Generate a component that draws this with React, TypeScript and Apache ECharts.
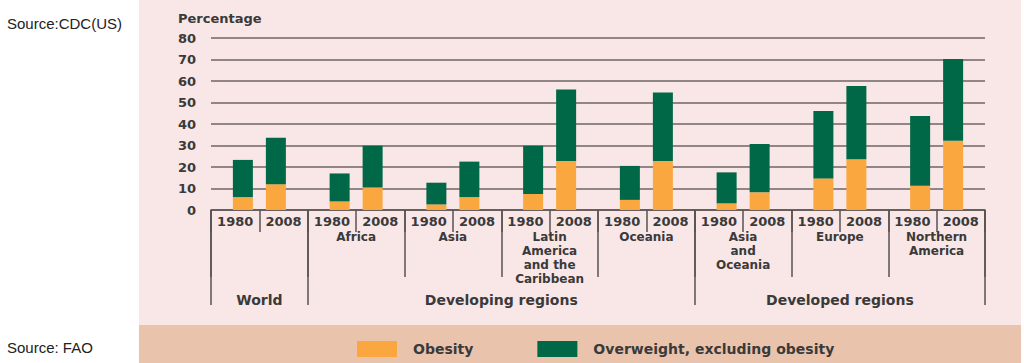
import React, { useEffect, useRef } from 'react';
import * as echarts from 'echarts';

// ---- data ----
const regions = ['World', 'Africa', 'Asia', 'Latin America and the Caribbean', 'Oceania', 'Asia and Oceania', 'Europe', 'Northern America'];
const regionLabels = ['', 'Africa', 'Asia', 'Latin\nAmerica\nand the\nCaribbean', 'Oceania', 'Asia\nand\nOceania', 'Europe', 'Northern\nAmerica'];
const years = ['1980', '2008'];
const obesity1980 = [6, 4, 2.6, 7.5, 4.7, 3.1, 14.7, 11.3];
const overweight1980 = [17.3, 13, 10.1, 22.4, 15.8, 14.4, 31.3, 32.4];
const obesity2008 = [12, 10.5, 6, 22.8, 22.8, 8.2, 23.6, 32.2];
const overweight2008 = [21.6, 19.4, 16.5, 33.3, 31.9, 22.5, 34.1, 38];
// group level labels: World (region 0), Developed regions (region 6) on 8-slot axis;
// Developing regions centred on slot 1 of a 4-slot axis
const groupLabels8 = ['World', '', '', '', '', '', 'Developed regions', ''];
const groupLabels4 = ['', 'Developing regions', '', ''];
const groupBoundaries = [0, 1, 5];

const FONT = 'DejaVu Sans';
const TXT = '#3a3a3a';
const LINE = '#5a5252';
const ORANGE = '#faa740';
const GREEN = '#006847';

export default function App() {
  const ref = useRef<HTMLDivElement>(null);
  useEffect(() => {
    if (!ref.current) return;
    const chart = echarts.init(ref.current, undefined, { renderer: 'svg' });
    const yearCats = regions.flatMap((r) => years.map((y) => r + '|' + y));
    const labelStyle = { fontFamily: FONT, fontWeight: 'bold' as const, fontSize: 13, color: TXT };
    const grid = { left: 211, right: 39, top: 38, bottom: 153 };
    chart.setOption({
      animation: false,
      title: {
        text: 'Percentage', left: 178, top: 12, padding: 0,
        textStyle: { ...labelStyle, fontSize: 13 },
      },
      legend: {
        data: ['Obesity', 'Overweight, excluding obesity'],
        left: 357, top: 341, padding: 0,
        itemWidth: 40, itemHeight: 16, itemGap: 64,
        icon: 'rect',
        textStyle: { ...labelStyle, fontSize: 14, padding: [0, 0, 0, 11] },
        selectedMode: false,
      },
      graphic: [
        { type: 'text', left: 7, top: 16, style: { text: 'Source:CDC(US)', font: '15px "Liberation Sans"', fill: '#222' } },
        { type: 'text', left: 7, top: 340, style: { text: 'Source: FAO', font: '15px "Liberation Sans"', fill: '#222' } },
      ],
      grid,
      yAxis: {
        type: 'value', min: 0, max: 80, interval: 10,
        axisLine: { show: false }, axisTick: { show: false },
        axisLabel: { ...labelStyle, margin: 15 },
        splitLine: { lineStyle: { color: '#6f6464', width: 1.5 } },
      },
      xAxis: [
        {
          type: 'category', data: regions, position: 'bottom',
          axisLine: { show: true, lineStyle: { color: LINE, width: 1.5 } },
          axisTick: { show: true, length: 67, interval: 0, lineStyle: { color: LINE, width: 1.5 } },
          axisLabel: {
            interval: 0, margin: 20, ...labelStyle, fontSize: 12, lineHeight: 14,
            formatter: (_v: string, i: number) => regionLabels[i],
          },
        },
        {
          type: 'category', data: yearCats, position: 'bottom',
          axisLine: { show: false },
          axisTick: { show: true, length: 22, interval: 0, lineStyle: { color: LINE, width: 1.5 } },
          axisLabel: {
            interval: 0, margin: 4, lineHeight: 14, ...labelStyle,
            formatter: (v: string) => v.split('|')[1],
          },
        },
        {
          type: 'category', data: regions, position: 'bottom',
          axisLine: { show: false },
          axisTick: {
            show: true, length: 95, lineStyle: { color: LINE, width: 1.5 },
            interval: (i: number) => groupBoundaries.includes(i),
          },
          axisLabel: {
            interval: 0, margin: 82, lineHeight: 15, ...labelStyle, fontSize: 14,
            formatter: (_v: string, i: number) => groupLabels8[i],
          },
        },
        {
          type: 'category', data: groupLabels4.map((_, i) => 'g' + i), position: 'bottom',
          axisLine: { show: false }, axisTick: { show: false },
          axisLabel: {
            interval: 0, margin: 82, lineHeight: 15, ...labelStyle, fontSize: 14,
            formatter: (_v: string, i: number) => groupLabels4[i],
          },
        },
      ],
      series: [
        { name: 'Obesity', type: 'bar', stack: 'y1980', data: obesity1980, itemStyle: { color: ORANGE }, barWidth: 20, barGap: '65%' },
        { name: 'Overweight, excluding obesity', type: 'bar', stack: 'y1980', data: overweight1980, itemStyle: { color: GREEN }, barWidth: 20, barGap: '65%' },
        { name: 'Obesity', type: 'bar', stack: 'y2008', data: obesity2008, itemStyle: { color: ORANGE }, barWidth: 20, barGap: '65%' },
        { name: 'Overweight, excluding obesity', type: 'bar', stack: 'y2008', data: overweight2008, itemStyle: { color: GREEN }, barWidth: 20, barGap: '65%' },
      ],
    });
    return () => chart.dispose();
  }, []);

  return (
    <div style={{ position: 'absolute', left: 0, top: 0, width: 1024, height: 363, background: '#ffffff' }}>
      <div style={{ position: 'absolute', left: 139, top: 0, width: 882, height: 325, background: '#f9e6e6' }} />
      <div style={{ position: 'absolute', left: 139, top: 325, width: 882, height: 38, background: '#eac3ac' }} />
      <div ref={ref} style={{ position: 'absolute', left: 0, top: 0, width: 1024, height: 363 }} />
    </div>
  );
}
